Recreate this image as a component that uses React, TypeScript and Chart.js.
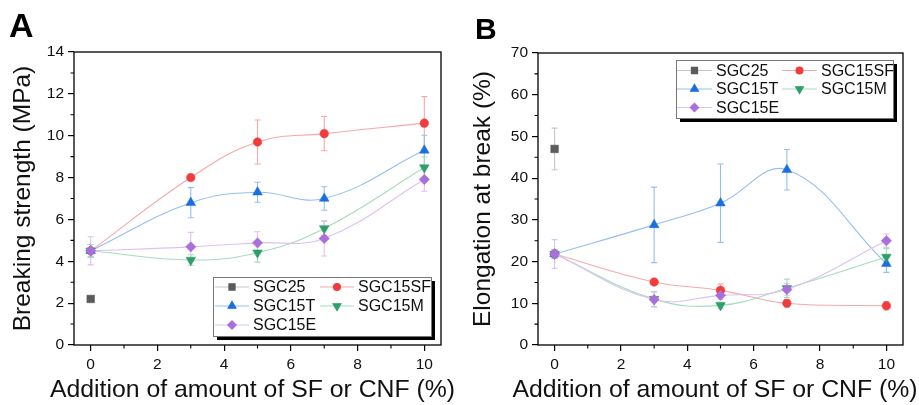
import React, { useEffect, useRef } from 'react';
import { Chart, registerables } from 'chart.js';
import { drawPoint } from 'chart.js/helpers';
Chart.register(...registerables);

// ---------- data ----------
const xTickValues = [0, 2, 4, 6, 8, 10];
const seriesNames = ['SGC25', 'SGC15SF', 'SGC15T', 'SGC15M', 'SGC15E'];
const xTitle = 'Addition of amount of SF or CNF (%)';
const xControl = [0];
const xFiber = [0, 3, 5, 7, 10];

// Panel A: breaking strength (MPa)
const strengthSGC25 = [2.2];
const strengthSGC25Err = [0.1];
const strengthSF = [4.5, 8.0, 9.7, 10.1, 10.6];
const strengthSFErr = [0.3, 0.1, 1.05, 0.82, 1.27];
const strengthT = [4.5, 6.8, 7.3, 7.0, 9.3];
const strengthTErr = [0.3, 0.72, 0.48, 0.56, 0.72];
const strengthM = [4.5, 4.06, 4.41, 5.57, 8.48];
const strengthMErr = [0.3, 0.25, 0.45, 0.35, 0.5];
const strengthE = [4.5, 4.69, 4.88, 5.09, 7.91];
const strengthEErr = [0.67, 0.69, 0.53, 0.84, 0.56];

// Panel B: elongation at break (%)
const elongSGC25 = [47];
const elongSGC25Err = [5];
const elongSF = [21.8, 15.1, 13.1, 10.0, 9.4];
const elongSFErr = [1, 0.5, 1.5, 0.9, 1.0];
const elongT = [21.8, 28.8, 34.0, 42.0, 19.5];
const elongTErr = [1, 9.05, 9.4, 4.85, 2.1];
const elongM = [21.8, 11.0, 9.5, 13.6, 21.1];
const elongMErr = [1, 1.8, 0.8, 2.2, 2.0];
const elongE = [21.8, 10.9, 11.9, 13.3, 25.0];
const elongEErr = [3.45, 1.8, 1.0, 1.5, 1.6];

// ---------- styles ----------
const FONT = "'Liberation Sans', Arial, Helvetica, sans-serif";
const styles = [
  { marker: '#5b5b5b', line: '#c6c6c6', pointStyle: 'rect', radius: 5.4, rotation: 0 },
  { marker: '#f03c3c', line: '#f7a8a8', pointStyle: 'circle', radius: 4.3, rotation: 0 },
  { marker: '#1a6fdf', line: '#95bef1', pointStyle: 'triangle', radius: 5.6, rotation: 0 },
  { marker: '#2f9f68', line: '#a5dcbd', pointStyle: 'triangle', radius: 5.6, rotation: 180 },
  { marker: '#a970dc', line: '#dcc1f2', pointStyle: 'rectRot', radius: 5.2, rotation: 0 },
];

function makeDataset(i: number, xs: number[], ys: number[], errs: number[]) {
  const s = styles[i];
  return {
    label: seriesNames[i],
    data: xs.map((x, k) => ({ x, y: ys[k] })),
    errors: errs,
    borderColor: s.line,
    borderWidth: 1.1,
    backgroundColor: s.marker,
    pointBackgroundColor: s.marker,
    pointBorderColor: s.marker,
    pointBorderWidth: 0.5,
    pointStyle: s.pointStyle,
    pointRotation: s.rotation,
    pointRadius: s.radius,
    tension: 0.4,
    showLine: xs.length > 1,
    order: 10 - i,
  };
}

const panelPlugin = {
  id: 'panelDeco',
  beforeDatasetsDraw(chart: any) {
    const ctx = chart.ctx;
    const yScale = chart.scales.y;
    chart.data.datasets.forEach((ds: any, i: number) => {
      const meta = chart.getDatasetMeta(i);
      ctx.save();
      ctx.strokeStyle = styles[i].line;
      ctx.lineWidth = 1.1;
      meta.data.forEach((pt: any, k: number) => {
        const e = ds.errors[k];
        const v = ds.data[k].y;
        const top = yScale.getPixelForValue(v + e);
        const bot = yScale.getPixelForValue(v - e);
        ctx.beginPath();
        ctx.moveTo(pt.x, top);
        ctx.lineTo(pt.x, bot);
        ctx.moveTo(pt.x - 3, top);
        ctx.lineTo(pt.x + 3, top);
        ctx.moveTo(pt.x - 3, bot);
        ctx.lineTo(pt.x + 3, bot);
        ctx.stroke();
      });
      ctx.restore();
    });
  },
  afterDraw(chart: any, _args: any, opts: any) {
    const ctx = chart.ctx;
    const { left, top, right, bottom } = chart.chartArea;
    ctx.save();
    // frame
    ctx.strokeStyle = '#000';
    ctx.lineWidth = 1.3;
    ctx.strokeRect(left, top, right - left, bottom - top);
    // minor ticks
    ctx.lineWidth = 1.1;
    ctx.beginPath();
    opts.xMinor.forEach((v: number) => {
      const x = chart.scales.x.getPixelForValue(v);
      ctx.moveTo(x, bottom);
      ctx.lineTo(x, bottom + 3.5);
    });
    opts.yMinor.forEach((v: number) => {
      const y = chart.scales.y.getPixelForValue(v);
      ctx.moveTo(left, y);
      ctx.lineTo(left - 3.5, y);
    });
    ctx.stroke();
    // x-axis title (drawn without width squeeze)
    ctx.fillStyle = '#111';
    ctx.font = `24.8px ${FONT}`;
    ctx.textAlign = 'center';
    ctx.textBaseline = 'alphabetic';
    ctx.fillText(xTitle, (left + right) / 2 + opts.xTitleShift, 397);
    // panel letter
    ctx.fillStyle = '#000';
    ctx.font = `bold ${opts.letterSize}px ${FONT}`;
    ctx.textAlign = 'left';
    ctx.fillText(opts.letter, opts.letterX, opts.letterY);
    // legend box with shadow
    const L = opts.legend;
    ctx.fillStyle = '#000';
    ctx.fillRect(L.x + 4, L.y + 4, L.w, L.h);
    ctx.fillStyle = '#fff';
    ctx.fillRect(L.x, L.y, L.w, L.h);
    ctx.strokeStyle = '#777';
    ctx.lineWidth = 1;
    ctx.strokeRect(L.x + 0.5, L.y + 0.5, L.w, L.h);
    const cells = [
      [0, 0], [0, 1], [1, 0], [1, 1], [2, 0],
    ];
    ctx.font = `16px ${FONT}`;
    ctx.textBaseline = 'middle';
    cells.forEach(([row, col], i) => {
      const s = styles[i];
      const cy = L.y + L.row0 + row * L.rowH;
      const lx = L.x + (col === 0 ? L.col0 : L.col1);
      ctx.strokeStyle = s.line;
      ctx.lineWidth = 1.2;
      ctx.beginPath();
      ctx.moveTo(lx, cy);
      ctx.lineTo(lx + L.lineW, cy);
      ctx.stroke();
      ctx.fillStyle = s.marker;
      ctx.strokeStyle = s.marker;
      drawPoint(ctx, { pointStyle: s.pointStyle, rotation: s.rotation, radius: s.radius * 0.8, borderWidth: 0.5 }, lx + L.lineW / 2, cy);
      ctx.fillStyle = '#111';
      ctx.fillText(seriesNames[i], lx + L.lineW + 4, cy + 1);
    });
    ctx.restore();
  },
};

function buildConfig(p: any) {
  return {
    type: 'line',
    data: { datasets: p.datasets },
    plugins: [panelPlugin],
    options: {
      responsive: false,
      animation: false,
      events: [],
      layout: { padding: p.padding },
      plugins: {
        legend: { display: false },
        tooltip: { enabled: false },
        panelDeco: p.deco,
      },
      scales: {
        x: {
          type: 'linear',
          min: -0.5,
          max: 10.5,
          afterBuildTicks: (s: any) => {
            s.ticks = xTickValues.map((v) => ({ value: v }));
          },
          afterFit: (s: any) => {
            s.height = 60;
          },
          border: { display: false },
          grid: { display: true, drawOnChartArea: false, drawTicks: true, tickLength: 6, color: '#000', lineWidth: 1.2 },
          ticks: { font: { size: 15.5, family: FONT }, color: '#111', padding: 4, maxRotation: 0 },
          title: { display: false },
        },
        y: {
          type: 'linear',
          min: 0,
          max: p.yMax,
          afterFit: (s: any) => {
            s.width = p.yWidth;
          },
          border: { display: false },
          grid: { display: true, drawOnChartArea: false, drawTicks: true, tickLength: 6, color: '#000', lineWidth: 1.2 },
          ticks: { stepSize: p.yStep, font: { size: 15.5, family: FONT }, color: '#111', padding: 4 },
          title: {
            display: true,
            text: p.yTitle,
            font: { size: 24.5, family: FONT },
            color: '#111',
            padding: { top: 9, bottom: 0 },
          },
        },
      },
    },
  };
}

function range(a: number, b: number, step: number) {
  const r: number[] = [];
  for (let v = a; v <= b + 1e-9; v += step) r.push(v);
  return r;
}

const configA = () =>
  buildConfig({
    datasets: [
      makeDataset(0, xControl, strengthSGC25, strengthSGC25Err),
      makeDataset(1, xFiber, strengthSF, strengthSFErr),
      makeDataset(2, xFiber, strengthT, strengthTErr),
      makeDataset(3, xFiber, strengthM, strengthMErr),
      makeDataset(4, xFiber, strengthE, strengthEErr),
    ],
    padding: { left: 0, top: 52, right: 19, bottom: 0 },
    yMax: 14,
    yStep: 2,
    yWidth: 74,
    yTitle: 'Breaking strength (MPa)',
    deco: {
      xMinor: [1, 3, 5, 7, 9],
      yMinor: range(1, 13, 2),
      xTitleShift: -5,
      letter: 'A',
      letterX: 9,
      letterY: 37,
      letterSize: 34,
      legend: { x: 213, y: 277, w: 218, h: 59, row0: 10, rowH: 19, col0: 2, col1: 107, lineW: 34 },
    },
  });

const configB = () =>
  buildConfig({
    datasets: [
      makeDataset(0, xControl, elongSGC25, elongSGC25Err),
      makeDataset(1, xFiber, elongSF, elongSFErr),
      makeDataset(2, xFiber, elongT, elongTErr),
      makeDataset(3, xFiber, elongM, elongMErr),
      makeDataset(4, xFiber, elongE, elongEErr),
    ],
    padding: { left: 0, top: 53, right: 16, bottom: 0 },
    yMax: 70,
    yStep: 10,
    yWidth: 78,
    yTitle: 'Elongation at break (%)',
    deco: {
      xMinor: [1, 3, 5, 7, 9],
      yMinor: range(5, 65, 10),
      xTitleShift: -5.5,
      letter: 'B',
      letterX: 15,
      letterY: 39,
      letterSize: 30,
      legend: { x: 216, y: 60, w: 217, h: 58, row0: 10.5, rowH: 18.5, col0: 1, col1: 106, lineW: 35 },
    },
  });

function Panel({ make, left, width }: { make: () => any; left: number; width: number }) {
  const ref = useRef<HTMLCanvasElement>(null);
  useEffect(() => {
    const chart = new Chart(ref.current as HTMLCanvasElement, make());
    return () => chart.destroy();
  }, []);
  return (
    <canvas
      ref={ref}
      width={width}
      height={405}
      style={{ position: 'absolute', left, top: 0, width, height: 405 }}
    />
  );
}

export default function App() {
  return (
    <div style={{ position: 'absolute', left: 0, top: 0, width: 919, height: 405, background: '#fff', overflow: 'hidden' }}>
      <Panel make={configA} left={0} width={460} />
      <Panel make={configB} left={460} width={459} />
    </div>
  );
}
